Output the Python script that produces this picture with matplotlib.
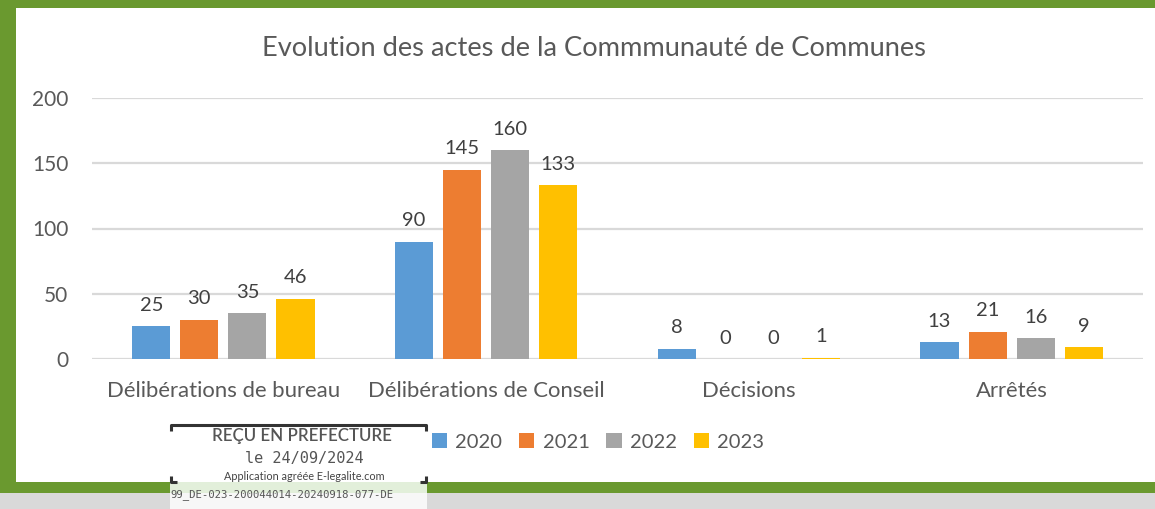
import numpy as np
import matplotlib
matplotlib.use('Agg')
import matplotlib.pyplot as plt
from matplotlib.patches import Rectangle
from matplotlib.lines import Line2D

categories = ['Délibérations de bureau', 'Délibérations de Conseil', 'Décisions', 'Arrêtés']
years = ['2020', '2021', '2022', '2023']
v2020 = [25, 90, 8, 13]
v2021 = [30, 145, 0, 21]
v2022 = [35, 160, 0, 16]
v2023 = [46, 133, 1, 9]
series = [v2020, v2021, v2022, v2023]
colors = ['#5B9BD5', '#ED7D31', '#A5A5A5', '#FFC000']

W, H = 1155, 509
plt.rcParams['font.family'] = ['Lato', 'DejaVu Sans']
txt = '#595959'

fig = plt.figure(figsize=(W / 100, H / 100), dpi=100)
fig.patch.set_facecolor('white')

def px(x, y):
    return x / W, 1 - y / H

def frect(x0, y0, x1, y1, color, z=0, **kw):
    fig.patches.append(Rectangle(px(x0, y1), (x1 - x0) / W, (y1 - y0) / H,
                                 transform=fig.transFigure, facecolor=color,
                                 edgecolor='none', zorder=z, **kw))

# green frame and grey bottom strip
frect(0, 0, W, 8, '#6A992F')
frect(0, 0, 16, 493, '#6A992F')
frect(0, 482, W, 493, '#6A992F')
frect(0, 493, W, H, '#D9D9D9')

ax = fig.add_axes([92 / W, 1 - 359 / H, (1143 - 92) / W, (359 - 98) / H])
ax.set_facecolor('none')
x = np.arange(len(categories))
bw = 0.145
step = 0.183
for i, (vals, c, yr) in enumerate(zip(series, colors, years)):
    pos = x + (i - 1.5) * step
    bars = ax.bar(pos, vals, bw, color=c, label=yr, zorder=3)
    for b, v in zip(bars, vals):
        ax.annotate(str(v), (b.get_x() + b.get_width() / 2, v),
                    xytext=(0, 9), textcoords='offset points',
                    ha='center', va='bottom', fontsize=14.5, color='#404040')

ax.set_xlim(-0.5, 3.5)
ax.set_ylim(0, 200)
ax.set_yticks([0, 50, 100, 150, 200])
ax.yaxis.grid(True, color='#D9D9D9', linewidth=1.6, zorder=0)
ax.set_axisbelow(True)
for s in ax.spines.values():
    s.set_visible(False)
ax.tick_params(axis='both', length=0, colors=txt)
ax.tick_params(axis='y', pad=17, labelsize=15)
ax.tick_params(axis='x', pad=16, labelsize=15.9)
ax.set_xticks(x)
ax.set_xticklabels(categories)

fig.text(*px(594, 48), 'Evolution des actes de la Commmunauté de Communes',
         ha='center', va='center', fontsize=19.6, color=txt)

fig.legend(loc='center', bbox_to_anchor=px(598, 442), ncol=4, frameon=False,
           fontsize=14.5, labelcolor=txt, handlelength=0.75, handleheight=0.75,
           handletextpad=0.4, columnspacing=0.85, borderaxespad=0)

# reception stamp
frect(170, 424, 427, 482, 'white', z=5)
frect(170, 482, 427, 493, '#E2EFDA', z=5)
frect(170, 493, 427, H, '#F7F7F7', z=5)
sk = dict(color='#333333', linewidth=2.2, transform=fig.transFigure, zorder=6,
          solid_capstyle='butt')
for xs, ys in [([171, 171, 426, 426], [431, 425, 425, 431]),
               ([171, 171, 177], [476, 482, 482]),
               ([426, 426, 420], [476, 482, 482])]:
    fx = [a / W for a in xs]
    fy = [1 - b / H for b in ys]
    fig.lines.append(Line2D(fx, fy, **sk))
fig.text(*px(302, 436), 'REÇU EN PREFECTURE', ha='center', va='center',
         fontsize=12.2, color='#555555', fontweight='semibold', zorder=7)
fig.text(*px(304, 458), 'le 24/09/2024', ha='center', va='center',
         fontsize=11, color='#555555', family='DejaVu Sans Mono', zorder=7)
fig.text(*px(304, 476), 'Application agréée E-legalite.com', ha='center',
         va='center', fontsize=7.8, color='#444444', zorder=7)
fig.text(*px(170, 495), '99_DE-023-200044014-20240918-077-DE', ha='left',
         va='center', fontsize=7.7, color='#555555', family='DejaVu Sans Mono',
         zorder=7)

fig.savefig('out.png', dpi=100)
